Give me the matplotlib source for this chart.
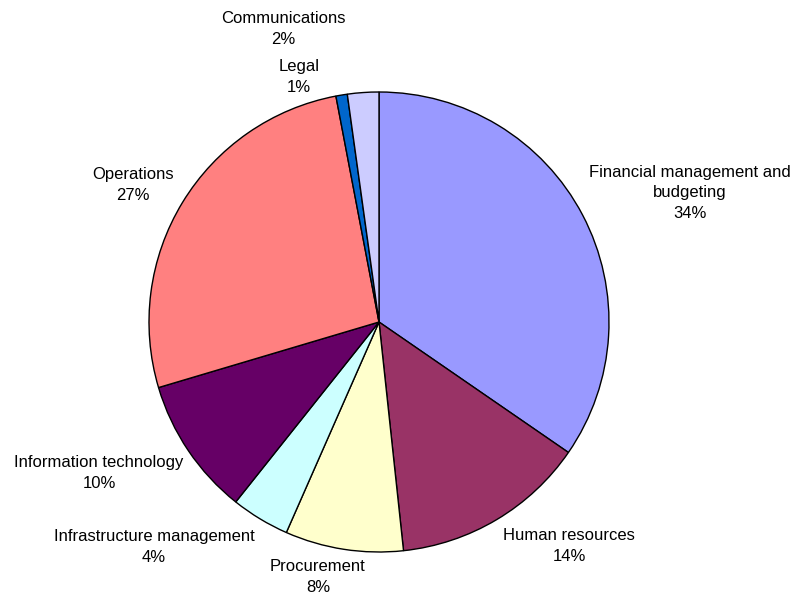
import matplotlib
matplotlib.use("Agg")
from matplotlib import pyplot as plt

categories = ['Financial management and\nbudgeting', 'Human resources', 'Procurement',
              'Infrastructure management', 'Information technology', 'Operations',
              'Legal', 'Communications']
shares = [34.6, 13.7, 8.3, 4.1, 9.7, 26.6, 0.8, 2.2]
pct_labels = ['34%', '14%', '8%', '4%', '10%', '27%', '1%', '2%']
colors = ['#9999FF', '#993366', '#FFFFCC', '#CCFFFF', '#660066', '#FF8080', '#0066CC', '#CCCCFF']

# label centres in pixel coords (x, y from top)
label_pos = [(690, 193), (569, 546), (318, 577), (154, 547),
             (99, 473), (133, 185), (299, 77), (283, 29)]

plt.rcParams['font.family'] = ['Liberation Sans', 'DejaVu Sans']

fig = plt.figure(figsize=(7.97, 6), dpi=100)
ax = fig.add_axes([0, 0, 1, 1])
ax.axis('off')

ax.pie(shares, colors=colors, startangle=90, counterclock=False,
       center=(379, 600 - 322), radius=230,
       wedgeprops=dict(edgecolor='black', linewidth=1))
ax.set_xlim(0, 797)
ax.set_ylim(0, 600)
ax.set_aspect('equal')

for name, pct, (x, y) in zip(categories, pct_labels, label_pos):
    ax.text(x, 600 - y, name + '\n' + pct, ha='center', va='center',
            fontsize=12, multialignment='center', linespacing=1.5)

fig.savefig('out.png', dpi=100)
